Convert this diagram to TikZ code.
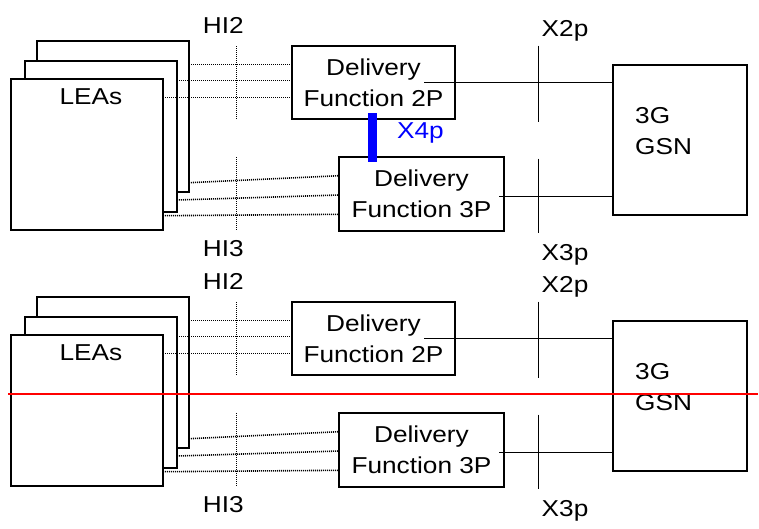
\documentclass[tikz,border=0pt]{standalone}
\usepackage{fontspec}
\setmainfont{Liberation Sans}[FakeStretch=1.14]
\newcommand\dgfont{\fontsize{23}{31}\selectfont}
\definecolor{cutred}{RGB}{255,0,0}
\definecolor{x4blue}{RGB}{0,0,255}
\tikzset{
  lea/.style={draw, line width=1.8pt, fill=white, minimum width=152pt, minimum height=151pt, inner sep=0pt, outer sep=0pt},
  dfbox/.style={draw, line width=1.8pt, fill=white, align=center, inner sep=0pt, outer sep=0pt, font=\dgfont},
  gsnbox/.style={draw, line width=1.8pt, fill=white, inner sep=0pt, outer sep=0pt},
  txt/.style={inner sep=0pt, font=\dgfont},
  dotline/.style={line width=1.6pt, dash pattern=on 1pt off 1pt},
  conn/.style={line width=1.4pt},
  ifline/.style={line width=1.4pt},
  x4bar/.style={line width=8.4pt, draw=x4blue},
  cutline/.style={line width=2pt, draw=cutred},
}
\newcommand\halfdiagram{%
  \node[lea] (leaC) at (113,116.5) {};
  \node[lea] (leaB) at (101,136.5) {};
  \node[lea] (leaA) at (87,154.5) {};
  \node[txt, anchor=base] (leas) at (91,104) {LEAs};
  \node[dfbox, minimum width=163pt, minimum height=73pt] (df2) at (373.5,82.5) {Delivery\\Function 2P};
  \node[dfbox, minimum width=165pt, minimum height=74.3pt] (df3) at (421.5,193.85) {Delivery\\Function 3P};
  \node[gsnbox, minimum width=133.4pt, minimum height=150.3pt] (gsn) at (680,139.85) {};
  \node[txt, align=left, anchor=west] (gsnt) at (635,130.7) {3G\\GSN};
  % HI2 / HI3 dotted connectors
  \draw[dotline] (leaC.east |- 0,64.5) -- (df2.west |- 0,64.5);
  \draw[dotline] (leaB.east |- 0,80.5) -- (df2.west |- 0,80.5);
  \draw[dotline] (leaA.east |- 0,97.5) -- (df2.west |- 0,97.5);
  \draw[dotline] (leaC.east |- 0,182.7) -- (df3.west |- 0,175.7);
  \draw[dotline] (leaB.east |- 0,200) -- (df3.west |- 0,195);
  \draw[dotline] (leaA.east |- 0,215.7) -- (df3.west |- 0,214.3);
  \coordinate (hi2a) at (236.5,46);
  \coordinate (hi2b) at (236.5,119);
  \coordinate (hi3a) at (236.5,157);
  \coordinate (hi3b) at (236.5,230);
  \draw[dotline] (hi2a) -- (hi2b);
  \draw[dotline] (hi3a) -- (hi3b);
  \node[txt, anchor=base] (hi2) at (223.3,33) {HI2};
  \node[txt, anchor=base] (hi3) at (223.3,256) {HI3};
  % X2p / X3p connectors
  \coordinate (s2) at (424.3,82.5);
  \coordinate (s3) at (499.3,196.5);
  \draw[conn] (s2) -- (s2 -| gsn.west);
  \draw[conn] (s3) -- (s3 -| gsn.west);
  \coordinate (x2a) at (538.5,45.7);
  \coordinate (x2b) at (538.5,121.7);
  \coordinate (x3a) at (538.5,158.7);
  \coordinate (x3b) at (538.5,233);
  \draw[ifline] (x2a) -- (x2b);
  \draw[ifline] (x3a) -- (x3b);
  \node[txt, anchor=base] (x2p) at (565,36) {X2p};
  \node[txt, anchor=base] (x3p) at (565,260.5) {X3p};
}
\begin{document}
\begin{tikzpicture}[x=1pt, y=-1pt]
  \useasboundingbox (0,0) rectangle (759,528);
  \begin{scope}[name prefix=t-]
    \halfdiagram
    \coordinate (x4a) at (372.5,113);
    \coordinate (x4b) at (372.5,161.7);
    \draw[x4bar] (x4a) -- (x4b);
    \node[txt, anchor=base, text=x4blue] (x4p) at (420.5,138.3) {X4p};
  \end{scope}
  \begin{scope}[name prefix=b-, yshift=-256pt]
    \halfdiagram
  \end{scope}
  \coordinate (ra) at (8,393.5);
  \coordinate (rb) at (758,393.5);
  \draw[cutline] (ra) -- (rb);
\end{tikzpicture}
\end{document}
